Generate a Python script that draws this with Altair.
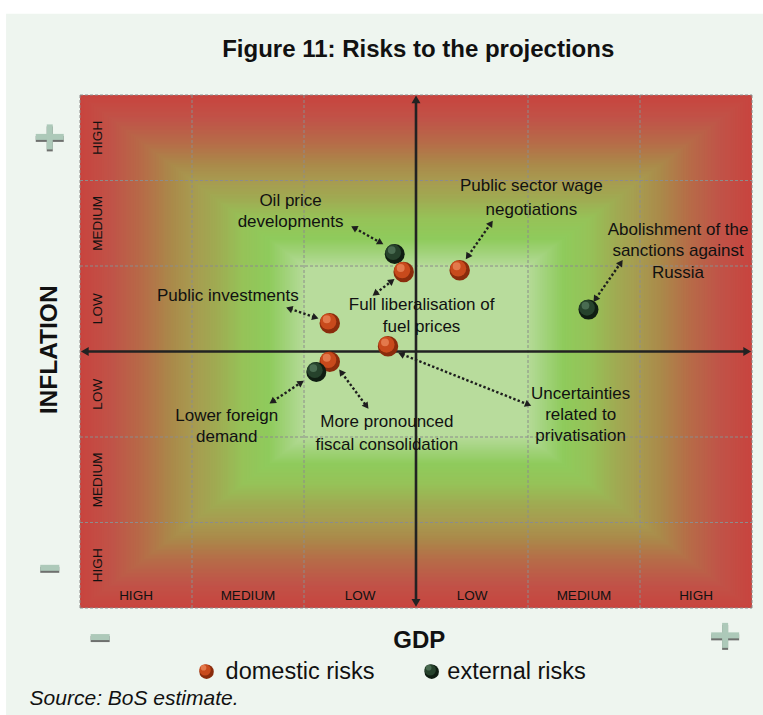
import math
import altair as alt
import pandas as pd

FONT = "Liberation Sans Narrow, Arial Narrow, Liberation Sans, sans-serif"

# ---------------- data ----------------
risk_name = ["Oil price developments", "Full liberalisation of fuel prices",
             "Public sector wage negotiations", "Public investments",
             "Uncertainties related to privatisation",
             "More pronounced fiscal consolidation", "Lower foreign demand",
             "Abolishment of the sanctions against Russia"]
risk_type = ["external", "domestic", "domestic", "domestic", "domestic",
             "domestic", "external", "external"]
risk_gdp = [-0.19, -0.11, 0.39, -0.77, -0.25, -0.77, -0.89, 1.54]
risk_infl = [1.14, 0.93, 0.95, 0.33, 0.06, -0.12, -0.24, 0.49]
risk_layer = [0, 1, 1, 1, 1, 1, 2, 2]

# label lines (text, gdp position, inflation position)
label_text = ["Oil price", "developments", "Public sector wage", "negotiations",
              "Abolishment of the", "sanctions against", "Russia",
              "Public investments", "Full liberalisation of", "fuel prices",
              "Uncertainties", "related to", "privatisation",
              "Lower foreign", "demand", "More pronounced", "fiscal consolidation"]
label_x = [-1.12, -1.12, 1.03, 1.03, 2.34, 2.34, 2.34, -1.68, 0.05, 0.05,
           1.47, 1.47, 1.47, -1.69, -1.69, -0.26, -0.26]
label_y = [1.76, 1.51, 1.93, 1.66, 1.42, 1.17, 0.92, 0.65, 0.54, 0.29,
           -0.50, -0.74, -0.99, -0.75, -1.00, -0.82, -1.09]

# dotted double-headed pointers
arrow_x1 = [-0.57, 0.45, 1.59, -1.15, -0.38, -0.15, -1.30, -0.68]
arrow_y1 = [1.46, 1.09, 0.59, 0.51, 0.66, -0.02, -0.60, -0.22]
arrow_x2 = [-0.30, 0.68, 1.84, -0.88, -0.20, 1.02, -1.01, -0.43]
arrow_y2 = [1.26, 1.52, 1.06, 0.39, 0.84, -0.63, -0.35, -0.66]

# main axis arrows
axis_x1 = [-2.98, 0.0]
axis_y1 = [0.0, -2.97]
axis_x2 = [2.98, 0.0]
axis_y2 = [0.0, 2.98]

# risk levels
level_names = ["HIGH", "MEDIUM", "LOW", "LOW", "MEDIUM", "HIGH"]
level_pos = [-2.5, -1.5, -0.5, 0.5, 1.5, 2.5]
grid_pos = [-2, -1, 1, 2]

# background gradient (level 0 = centre, 1 = edge)
bg_stops = [0.0, 0.33, 0.375, 0.44, 0.52, 0.60, 0.67, 0.73, 0.815, 0.905, 1.0]
bg_colors = ["#b8dc9c", "#b8dc9c", "#a6d482", "#8fcb5c", "#96c258",
             "#a0aa52", "#a89a50", "#aa8a4a", "#b66c48", "#c05448", "#c8443f"]

# ---------------- helpers ----------------
PXX, PXY = 112.0, 85.5   # pixels per unit (for arrowhead orientation)


def mix(t):
    for i in range(len(bg_stops) - 1):
        if bg_stops[i] <= t <= bg_stops[i + 1]:
            f = (t - bg_stops[i]) / (bg_stops[i + 1] - bg_stops[i])
            c1 = [int(bg_colors[i][k:k + 2], 16) for k in (1, 3, 5)]
            c2 = [int(bg_colors[i + 1][k:k + 2], 16) for k in (1, 3, 5)]
            c = [round(a + (b - a) * f) for a, b in zip(c1, c2)]
            return "#%02x%02x%02x" % tuple(c)
    return bg_colors[-1]


def heads(x1s, y1s, x2s, y2s, size):
    h = math.sqrt(3) * math.sqrt(size) / 4
    lines, tips = [], []
    for a, b, c, d in zip(x1s, y1s, x2s, y2s):
        ends = []
        for (xe, ye, xo, yo) in [(a, b, c, d), (c, d, a, b)]:
            dx = (xe - xo) * PXX
            dy = -(ye - yo) * PXY
            L = math.hypot(dx, dy)
            ux, uy = dx / L, dy / L
            ang = math.degrees(math.atan2(dx, -dy)) % 360
            xc = xe - h * ux / PXX
            yc = ye + h * uy / PXY
            tips.append({"x": xc, "y": yc, "ang": ang})
            ends.append((xc, yc))
        lines.append({"x": ends[0][0], "y": ends[0][1], "x2": ends[1][0], "y2": ends[1][1]})
    return pd.DataFrame(lines), pd.DataFrame(tips)


xs = alt.Scale(domain=[-3, 3], nice=False, zero=False)
ys = alt.Scale(domain=[-3, 3], nice=False, zero=False)


def X(f="x"):
    return alt.X(f"{f}:Q", scale=xs, axis=None)


def Y(f="y"):
    return alt.Y(f"{f}:Q", scale=ys, axis=None)


def box(df, **mk):
    return alt.Chart(df).mark_rect(**mk).encode(x=X(), x2=alt.X2("x2:Q"), y=Y(), y2=alt.Y2("y2:Q"))


# ---------------- layers ----------------
panel = box(pd.DataFrame({"x": [-3.66], "x2": [3.12], "y": [3.95], "y2": [-4.3]}), color="#eef5ef")

levels = [round(1.0 - 0.005 * i, 3) for i in range(0, 135)]
bg_df = pd.DataFrame({"t": levels})
bg_df["x"] = -3 * bg_df["t"]
bg_df["x2"] = 3 * bg_df["t"]
bg_df["y"] = -3 * bg_df["t"]
bg_df["y2"] = 3 * bg_df["t"]
bg_df["c"] = [mix(t) for t in levels]
background = alt.Chart(bg_df).mark_rect().encode(
    x=X(), x2=alt.X2("x2:Q"), y=Y(), y2=alt.Y2("y2:Q"),
    color=alt.Color("c:N", scale=None))

grid_style = dict(color="#8c8c8c", strokeWidth=1, strokeDash=[3, 2])
vgrid = alt.Chart(pd.DataFrame({"x": grid_pos + [-3, 3], "y": [-3] * 6, "y2": [3] * 6})).mark_rule(
    **grid_style).encode(x=X(), y=Y(), y2=alt.Y2("y2:Q"))
hgrid = alt.Chart(pd.DataFrame({"y": grid_pos + [-3, 3], "x": [-3] * 6, "x2": [3] * 6})).mark_rule(
    **grid_style).encode(y=Y(), x=X(), x2=alt.X2("x2:Q"))

ax_lines, ax_tips = heads(axis_x1, axis_y1, axis_x2, axis_y2, 80)
axis_rules = alt.Chart(ax_lines).mark_rule(color="#222222", strokeWidth=2.6).encode(
    x=X(), y=Y(), x2=alt.X2("x2:Q"), y2=alt.Y2("y2:Q"))
axis_heads = alt.Chart(ax_tips).mark_point(shape="triangle", filled=True, size=80, color="#222222",
                                            opacity=1).encode(
    x=X(), y=Y(), angle=alt.Angle("ang:Q", scale=None))

ar_lines, ar_tips = heads(arrow_x1, arrow_y1, arrow_x2, arrow_y2, 55)
arrow_rules = alt.Chart(ar_lines).mark_rule(color="#1e1e1e", strokeWidth=2.4, strokeDash=[2.4, 2.2]).encode(
    x=X(), y=Y(), x2=alt.X2("x2:Q"), y2=alt.Y2("y2:Q"))
arrow_heads = alt.Chart(ar_tips).mark_point(shape="triangle", filled=True, size=55, color="#1e1e1e",
                                             opacity=1).encode(
    x=X(), y=Y(), angle=alt.Angle("ang:Q", scale=None))


def texts(t, x, y, **mk):
    return alt.Chart(pd.DataFrame({"t": t, "x": x, "y": y})).mark_text(**mk).encode(
        x=X(), y=Y(), text="t:N")


labels = texts(label_text, label_x, label_y, font=FONT, fontSize=17, color="#111111",
               align="center", baseline="middle")
left_lv = texts(level_names, [-2.84] * 6, level_pos, font=FONT, fontSize=13.5, color="#111111",
                angle=270, align="center", baseline="middle")
bottom_lv = texts(level_names, level_pos, [-2.86] * 6, font=FONT, fontSize=13.5, color="#111111",
                  align="center", baseline="middle")

risks = pd.DataFrame({"name": risk_name, "type": risk_type, "x": risk_gdp, "y": risk_infl,
                      "layer": risk_layer})

# sphere look: dark rim, main body (shifted up-left), small highlight
DOM = ["#8a2c0c", "#c84a1c", "#ec8a5c"]
EXT = ["#0f1d12", "#26422c", "#557a5e"]


def sphere(df, cols, size):
    base = alt.Chart(df)
    rim = base.mark_point(shape="circle", filled=True, color=cols[0], opacity=1, size=size).encode(
        x=X(), y=Y())
    body = base.mark_point(shape="circle", filled=True, color=cols[1], opacity=1, size=size * 0.62,
                           xOffset=-1.5, yOffset=-1.8).encode(x=X(), y=Y())
    glow = base.mark_point(shape="circle", filled=True, color=cols[2], opacity=0.75, size=size * 0.15,
                           xOffset=-3.0, yOffset=-4.0).encode(x=X(), y=Y())
    return [rim, body, glow]


p_layers = []
for lay, cols in [(0, EXT), (1, DOM), (2, EXT)]:
    sub = risks[risks["layer"] == lay].reset_index(drop=True)
    p_layers += sphere(sub, cols, 420 if lay == 1 else 400)

# outer texts
title = texts(["Figure 11: Risks to the projections"], [0.02], [3.53], font=FONT, fontSize=24,
              fontWeight="bold", color="#111111", align="center", baseline="middle")
infl = texts(["INFLATION"], [-3.27], [0.02], font=FONT, fontSize=24.5, fontWeight="bold",
             color="#111111", angle=270, align="center", baseline="middle")
gdp = texts(["GDP"], [0.03], [-3.39], font=FONT, fontSize=24, fontWeight="bold", color="#111111",
            align="center", baseline="middle")
source = texts(["Source: BoS estimate."], [-3.45], [-4.07], font=FONT, fontSize=21, fontStyle="italic",
               color="#111111", align="left", baseline="middle")

legend_kind = ["domestic risks", "external risks"]
legend_sym_x = [-1.87, 0.14]
legend_txt_x = [-1.70, 0.28]
legend_y = [-3.745, -3.745]
leg_layers = []
for i, cols in enumerate([DOM, EXT]):
    d = pd.DataFrame({"x": [legend_sym_x[i]], "y": [legend_y[i]]})
    leg_layers += sphere(d, cols, 210)
leg_txt = texts(legend_kind, legend_txt_x, legend_y, font=FONT, fontSize=23.5, color="#111111",
                align="left", baseline="middle")

# plus / minus signs (centre x, centre y, kind)
sign_x = [-3.27, -3.27, -2.82, 2.76]
sign_y = [2.51, -2.53, -3.34, -3.32]
sign_kind = ["+", "-", "-", "+"]
shadow_rows, face_rows = [], []
for sx, sy, k in zip(sign_x, sign_y, sign_kind):
    hw = (14 if k == "+" else 9.5) / PXX
    hh = 3 / PXY
    parts = [(sx - hw, sx + hw, sy - hh, sy + hh)]
    if k == "+":
        parts.append((sx - 3 / PXX, sx + 3 / PXX, sy - 12.5 / PXY, sy + 12.5 / PXY))
    for (a, b, c, d) in parts:
        shadow_rows.append({"x": a, "x2": b, "y": c - 2 / PXY, "y2": d - 2 / PXY})
        face_rows.append({"x": a, "x2": b, "y": c, "y2": d})
sign_shadow = box(pd.DataFrame(shadow_rows), color="#6e706e")
sign_face = box(pd.DataFrame(face_rows), color="#adc9b9")

chart = alt.layer(
    panel, background, vgrid, hgrid, axis_rules, axis_heads,
    arrow_rules, arrow_heads, labels, left_lv, bottom_lv, *p_layers,
    title, infl, gdp, source, *leg_layers, leg_txt, sign_shadow, sign_face
).properties(
    width=672, height=513,
    padding={"left": 80, "top": 95, "right": 11, "bottom": 107},
    autosize=alt.AutoSizeParams(type="none"),
    background="white"
).configure_view(stroke=None)

chart.save("out.html", embed_options={"renderer": "svg", "actions": False})
